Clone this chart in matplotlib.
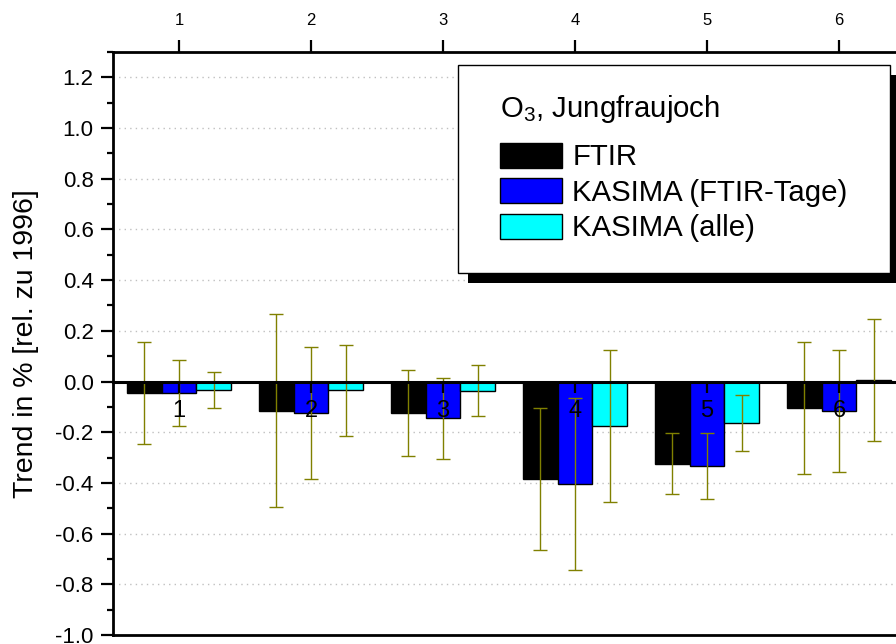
import matplotlib
matplotlib.use('Agg')
import matplotlib.pyplot as plt
import numpy as np
from matplotlib.patches import Rectangle, Patch
from matplotlib.ticker import MultipleLocator, FormatStrFormatter

plt.rcParams['font.family'] = ['Liberation Sans', 'DejaVu Sans']
plt.rcParams['axes.unicode_minus'] = False
plt.rcParams['mathtext.fontset'] = 'custom'
plt.rcParams['mathtext.rm'] = 'Liberation Sans'
plt.rcParams['mathtext.it'] = 'Liberation Sans:italic'

# ---- data ----
categories = [1, 2, 3, 4, 5, 6]
ftir = [-0.045, -0.115, -0.125, -0.385, -0.325, -0.105]
ftir_err = [0.20, 0.38, 0.17, 0.28, 0.12, 0.26]
kasima_ftir = [-0.045, -0.125, -0.145, -0.405, -0.335, -0.115]
kasima_ftir_err = [0.13, 0.26, 0.16, 0.34, 0.13, 0.24]
kasima_all = [-0.033, -0.034, -0.036, -0.174, -0.165, 0.006]
kasima_all_err = [0.07, 0.18, 0.10, 0.30, 0.11, 0.24]
series_labels = ['FTIR', 'KASIMA (FTIR-Tage)', 'KASIMA (alle)']
legend_title = 'O$_3$, Jungfraujoch'
ylabel = 'Trend in % [rel. zu 1996]'

colors = ['#000000', '#0000ff', '#00ffff']
err_color = '#808000'

W, H = 896, 644
fig = plt.figure(figsize=(W / 100, H / 100), dpi=100)
ax = fig.add_axes([113 / W, 9 / H, 924 / W, 583 / H])
ax.set_xlim(0.5, 7.5)
ax.set_ylim(-1.0, 1.3)

x = np.array(categories, dtype=float)
width = 0.265
series = [(ftir, ftir_err), (kasima_ftir, kasima_ftir_err), (kasima_all, kasima_all_err)]
for i, ((vals, errs), c) in enumerate(zip(series, colors)):
    xi = x + (i - 1) * width
    ax.bar(xi, vals, width=width, color=c, edgecolor='black', linewidth=1, zorder=2)
    ax.errorbar(xi, vals, yerr=errs, fmt='none', ecolor=err_color, elinewidth=1,
                capsize=5, capthick=1, zorder=3)

# grid
ax.yaxis.set_major_locator(MultipleLocator(0.2))
ax.yaxis.set_minor_locator(MultipleLocator(0.1))
ax.yaxis.set_major_formatter(FormatStrFormatter('%.1f'))
ax.yaxis.grid(True, which='major', linestyle=(0, (1, 3)), color='#c0c0c0', linewidth=1, zorder=0)
ax.set_axisbelow(True)

for s in ['left', 'top', 'bottom', 'right']:
    ax.spines[s].set_linewidth(2)
ax.tick_params(axis='y', which='major', direction='out', length=9, width=1.6, labelsize=16, pad=5)
ax.tick_params(axis='y', which='minor', direction='out', length=4.5, width=1.6)

ax.xaxis.tick_top()
ax.set_xticks(categories)
ax.set_xticklabels([str(c) for c in categories])
ax.tick_params(axis='x', which='major', direction='out', length=9, width=1.6, labelsize=12, pad=8,
               top=True, bottom=False, labeltop=True, labelbottom=False)
ax.tick_params(axis='x', which='minor', top=False, bottom=False)

ax.set_ylabel(ylabel, fontsize=20.5, labelpad=12)

# zero axis with category labels
sec = ax.secondary_xaxis(0, transform=ax.transData)
sec.set_xticks(categories)
sec.set_xticklabels([str(c) for c in categories])
sec.tick_params(axis='x', direction='out', length=8, width=1.6, labelsize=17, pad=5)
sec.spines['bottom'].set_linewidth(2.2)
sec.patch.set_visible(False)
sec.set_zorder(4)

# legend
fs = 21.2
handles = [Patch(facecolor=c, edgecolor='black', linewidth=1) for c in colors]
leg = fig.legend(handles, series_labels, title=legend_title, loc='upper left',
                 bbox_to_anchor=(500 / W, 1 - 93 / H), bbox_transform=fig.transFigure,
                 frameon=False, fontsize=fs, title_fontsize=fs, alignment='left',
                 borderpad=0, borderaxespad=0, handlelength=2.1, handleheight=0.92,
                 handletextpad=0.35, labelspacing=0.24)
leg._legend_box.sep = 0.2 * fs + 8.5
leg.set_zorder(6)

fig.canvas.draw()
bb = leg.get_window_extent(fig.canvas.get_renderer())
padx, padtop, padbot = 42, 28, 31
fx0 = (bb.x0 - padx) / W
fy0 = (bb.y0 - padbot) / H
fw = (bb.width + 2 * padx) / W
fh = (bb.height + padtop + padbot) / H
shadow = Rectangle((fx0 + 10 / W, fy0 - 10 / H), fw, fh, transform=fig.transFigure,
                   facecolor='black', edgecolor='none', zorder=3)
frame = Rectangle((fx0, fy0), fw, fh, transform=fig.transFigure,
                  facecolor='white', edgecolor='black', linewidth=1, zorder=4)
fig.patches.extend([shadow, frame])

fig.savefig('out.png', dpi=100)
